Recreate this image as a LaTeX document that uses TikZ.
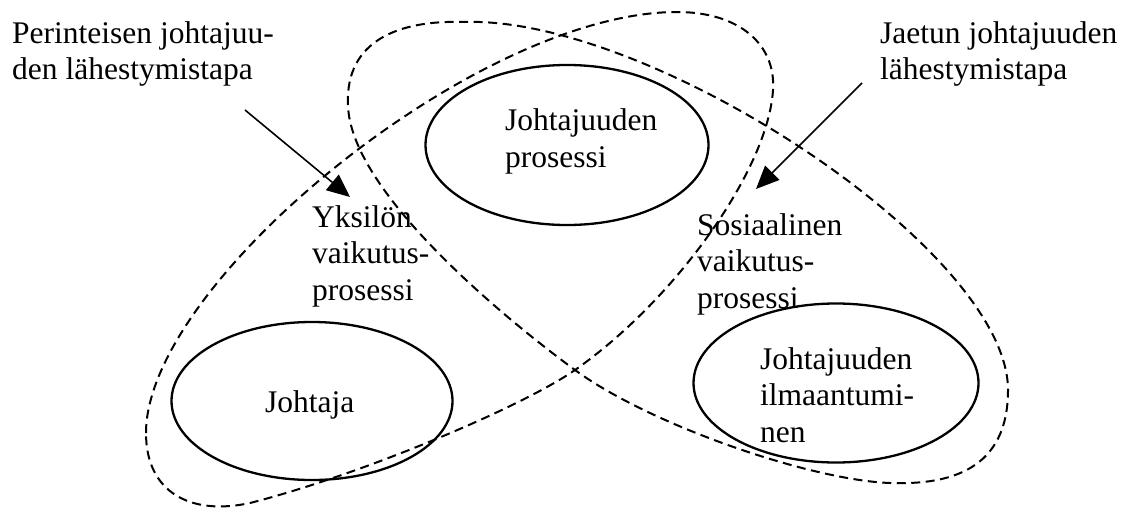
\documentclass[tikz,border=0pt]{standalone}
\usepackage{fontspec}
\setmainfont{Liberation Serif}
\usetikzlibrary{arrows.meta,shapes.geometric}
\begin{document}
\begin{tikzpicture}[x=1pt,y=-1pt,
  txt/.style={font=\fontsize{31.5}{36.5}\selectfont, align=left, inner sep=0pt, anchor=base west},
  zone/.style={draw, ellipse, line width=2.3pt, inner sep=0pt},
  approach/.style={line width=2pt, dash pattern=on 9pt off 5.5pt},
  pointer/.style={line width=1.6pt, -{Triangle[length=23pt,width=20pt]}}]
\useasboundingbox (0,0) rectangle (1123,508);

% traditional approach: wide end round the leader, narrow end at the top
\draw[approach] (146,433) .. controls (146,283) and (477,12) .. (677,12)
  .. controls (740,12) and (776,45) .. (773,90)
  .. controls (768,170) and (675,300) .. (575,370)
  .. controls (520,408) and (360,475) .. (250,503)
  .. controls (190,516) and (146,492) .. (146,433) -- cycle;

% shared approach: wide end round the emergence, narrow end at the top left
\draw[approach] (348,105) .. controls (345,40) and (400,20) .. (463,22)
  .. controls (650,15) and (1008,250) .. (1008,390)
  .. controls (1008,470) and (950,485) .. (890,483)
  .. controls (810,480) and (650,425) .. (575,370)
  .. controls (500,315) and (350,190) .. (348,105) -- cycle;

% solid ellipses
\node[zone, minimum width=283pt, minimum height=160pt] (process) at (567,145) {};
\node[zone, minimum width=281pt, minimum height=158pt] (leader) at (312,401) {};
\node[zone, minimum width=285pt, minimum height=159pt] (emergence) at (836,383) {};

% labels (placed at the baseline of their last line)
\node[txt] (tradlbl) at (12,80) {Perinteisen johtajuu-\\den lähestymistapa};
\node[txt] (sharedlbl) at (880,80) {Jaetun johtajuuden\\lähestymistapa};
\node[txt] (proclbl) at (505,167) {Johtajuuden\\prosessi};
\node[txt] (indlbl) at (312,300) {Yksilön\\vaikutus-\\prosessi};
\node[txt] (leadlbl) at (265,412) {Johtaja};
\node[txt] (soclbl) at (697,308) {Sosiaalinen\\vaikutus-\\prosessi};
\node[txt] (emlbl) at (760,442) {Johtajuuden\\ilmaantumi-\\nen};

% pointers
\coordinate (tradfrom) at (245,110);
\coordinate (tradto) at (350,197);
\coordinate (sharedfrom) at (862,83);
\coordinate (sharedto) at (756,189);
\draw[pointer] (tradfrom) -- (tradto);
\draw[pointer] (sharedfrom) -- (sharedto);
\end{tikzpicture}
\end{document}
